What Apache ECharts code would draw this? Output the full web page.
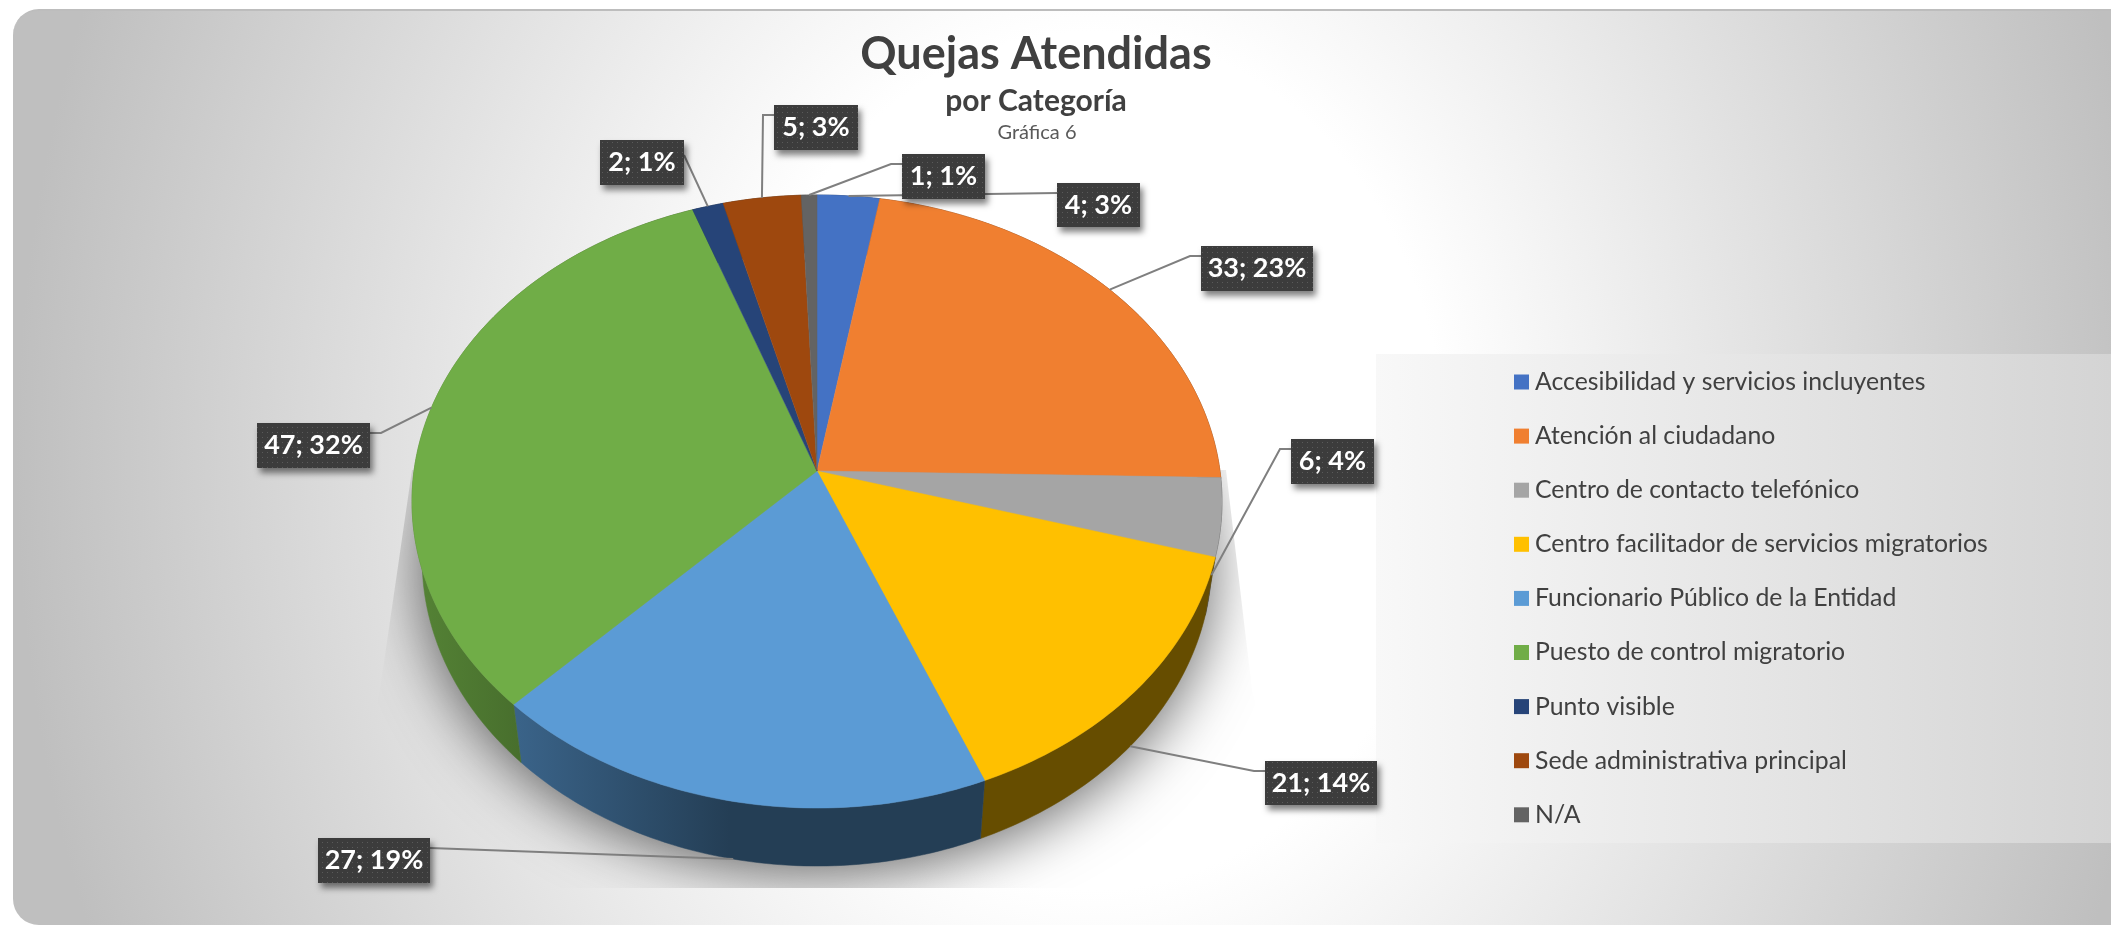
<!DOCTYPE html>
<html><head><meta charset="utf-8">
<style>
html,body{margin:0;padding:0;background:#fff;width:2111px;height:925px;overflow:hidden}
#bg{position:absolute;left:13px;top:9px;width:2098px;height:916px;box-sizing:border-box;border-top:2px solid #bdbdbd;border-radius:26px 0 0 26px;
background:radial-gradient(ellipse 1075px 1300px at 1078px 450px,#fff 0%,#fff 33%,#bfbfbf 100%)}
#c{position:absolute;left:0;top:0;width:2111px;height:925px}
</style>
<script src="https://cdn.jsdelivr.net/npm/echarts@6/dist/echarts.min.js"></script>
</head><body><div id="bg"></div><div id="c"></div>
<script>
// ---- data ----
const categories = ['Accesibilidad y servicios incluyentes','Atención al ciudadano','Centro de contacto telefónico','Centro facilitador de servicios migratorios','Funcionario Público de la Entidad','Puesto de control migratorio','Punto visible','Sede administrativa principal','N/A'];
const values = [4,33,6,21,27,47,2,5,1];
const percentLabels = ['3%','23%','4%','14%','19%','32%','1%','3%','1%'];
const colors = ['#4472C4','#F07F30','#A5A5A5','#FFC000','#5B9BD5','#70AD47','#264478','#9E480E','#636363'];
const titleText = 'Quejas Atendidas', subtitleText = 'por Categoría', captionText = 'Gráfica 6';
// label box layout: left, top, width, height, side of the leader, elbow
const labelBoxes = [
 [1057,183,83,44,'l',0],[1201,246,112,45,'l',1],[1291,439,83,45,'l',1],[1265,761,112,44,'l',1],
 [318,838,112,45,'r',0],[257,423,113,45,'r',1],[600,140,84,45,'r',0],[774,105,84,45,'l',1],[902,154,83,45,'l',1]
];
// ---- projection of the tilted disc ----
const CX=817, CY=471, AX=403, BY=303.5, K=0.0995, DEPTH=58, LOW=0.975;
const total = values.reduce((a,b)=>a+b,0);
const starts=[]; values.reduce((a,v,i)=>(starts[i]=a,a+v),0);
function rim(t,low){ const a=t/total*2*Math.PI,u=Math.sin(a),v=Math.cos(a),w=1+K*v;
  const X=AX*u/w,Y=-BY*v/w; return low?[CX+X*LOW,CY+Y+DEPTH]:[CX+X,CY+Y]; }
function arc(t0,t1,low){ const n=Math.max(2,Math.ceil((t1-t0)/total*360)),p=[];
  for(let i=0;i<=n;i++)p.push(rim(t0+(t1-t0)*i/n,low)); return p; }
function shade(hex,f){ const n=parseInt(hex.slice(1),16);
  return 'rgb('+[(n>>16)&255,(n>>8)&255,n&255].map(c=>Math.round(c*f)).join(',')+')'; }
function dotTile(){ const c=document.createElement('canvas');c.width=5;c.height=5;const g=c.getContext('2d');
  g.fillStyle='#3c3c3c';g.fillRect(0,0,5,5);g.fillStyle='#5a5a5a';g.fillRect(2,2,1,1);return c; }
const tile=dotTile();

function sliceSeries(i){
  return {name:categories[i],type:'custom',coordinateSystem:'none',z:3,silent:true,
    itemStyle:{color:colors[i]},data:[[values[i]]],
    renderItem(params,api){
      const t0=starts[i],t1=t0+api.value(0);
      const top=arc(t0,t1,false),low=arc(t0,t1,true).reverse();
      const wall=new echarts.graphic.LinearGradient(421,0,730,0,[{offset:0,color:shade(colors[i],.75)},{offset:1,color:shade(colors[i],.4)}],true);
      return {type:'group',children:[
        {type:'polygon',z2:1,shape:{points:top.concat(low)},style:{fill:wall,stroke:wall,lineWidth:.5}},
        {type:'polygon',z2:2,shape:{points:[[CX,CY]].concat(top)},style:{fill:colors[i],stroke:colors[i],lineWidth:.5}}
      ]};
    }};
}
function labelSeries(){
  return {name:'etiquetas',type:'custom',coordinateSystem:'none',z:5,silent:true,
    data:values.map((v,i)=>[v,i]),
    renderItem(params,api){
      const v=api.value(0),i=api.value(1),b=labelBoxes[i];
      const mid=starts[i]+v/2,ang=mid/total*2*Math.PI;
      const e=rim(mid,Math.cos(ang)<0);
      const ex=b[4]==='l'?b[0]:b[0]+b[2],ey=(i===6)?b[1]+15:b[1]+10;
      const pts=[[ex,ey]];
      if(b[5])pts.push([ex+(b[4]==='l'?-11:11),ey]);
      pts.push(e);
      return {type:'group',children:[
        {type:'polyline',z2:1,shape:{points:pts},style:{fill:null,stroke:'#7f7f7f',lineWidth:2}},
        {type:'rect',z2:2,shape:{x:b[0],y:b[1],width:b[2],height:b[3]},
          style:{fill:{image:tile,repeat:'repeat'},shadowColor:'rgba(0,0,0,.5)',shadowBlur:6,shadowOffsetX:3,shadowOffsetY:5}},
        {type:'text',z2:3,style:{x:b[0]+b[2]/2,y:b[1]+b[3]/2,text:v+'; '+percentLabels[i],fill:'#fff',
          font:'bold 27px Lato',align:'center',verticalAlign:'middle'}}
      ]};
    }};
}
function shadowSeries(){
  return {name:'sombra',type:'custom',coordinateSystem:'none',z:2,silent:true,data:[[total]],
    renderItem(params,api){
      const pts=arc(0,api.value(0),true);
      return {type:'group',
        clipPath:{type:'polygon',shape:{points:[[412,470],[1226,470],[1252,690],[1300,888],[335,888],[380,690]]}},
        children:[{type:'polygon',shape:{points:pts},style:{fill:'#999',shadowColor:'rgba(0,0,0,.6)',shadowBlur:60,shadowOffsetY:8}}]};
    }};
}
const chart=echarts.init(document.getElementById('c'),null,{renderer:'canvas'});
chart.setOption({
  backgroundColor:'transparent',animation:false,
  title:[
   {text:titleText,left:1031,top:27,textAlign:'center',textStyle:{fontFamily:'Lato',fontWeight:'bold',fontSize:45,color:'#404040'}},
   {text:subtitleText,left:1031,top:81,textAlign:'center',textStyle:{fontFamily:'Lato',fontWeight:'bold',fontSize:30,color:'#404040'}},
   {text:captionText,left:1032,top:118,textAlign:'center',textStyle:{fontFamily:'Lato',fontWeight:'normal',fontSize:20,color:'#595959'}}
  ],
  graphic:[{type:'rect',z:1,silent:true,shape:{x:1376,y:354,width:735,height:489},
    style:{fill:new echarts.graphic.LinearGradient(0,0,1,0,[{offset:0,color:'#f8f8f8'},{offset:1,color:'#d4d4d4'}])}}],
  legend:{orient:'vertical',left:1514,top:369.5,itemWidth:15,itemHeight:15,itemGap:29.1,padding:0,selectedMode:false,z:4,
    data:categories.map(n=>({name:n,icon:'rect'})),
    textStyle:{fontFamily:'Lato',fontSize:24.8,color:'#404040',padding:[0,0,0,1]}},
  series:[shadowSeries(),...categories.map((_,i)=>sliceSeries(i)),labelSeries()]
});
</script></body></html>
